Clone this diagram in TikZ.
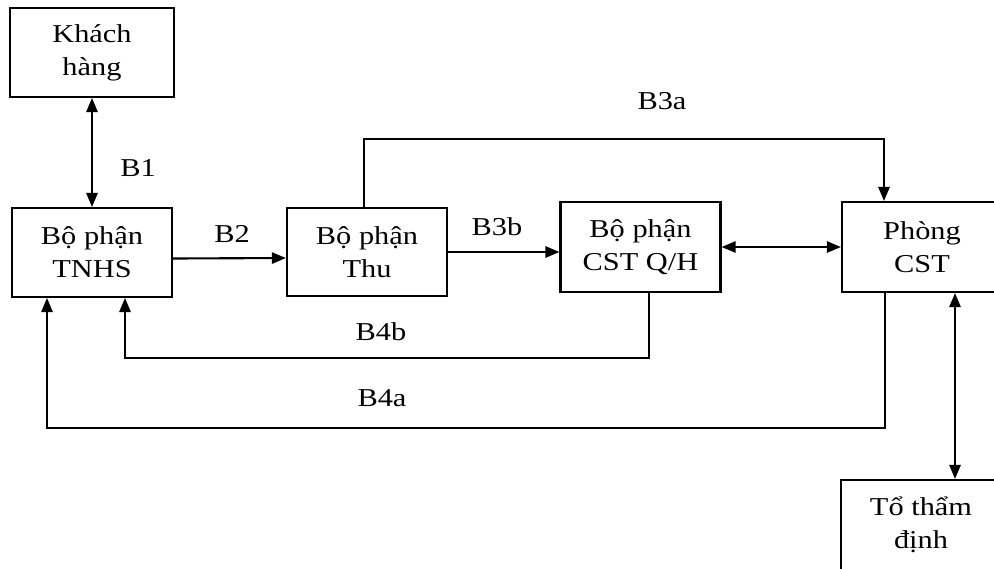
\documentclass[tikz,border=0pt]{standalone}
\usepackage{fontspec}
\setmainfont{Liberation Serif}[FakeStretch=1.18]
\usetikzlibrary{arrows.meta,positioning,calc}

\begin{document}
\begin{tikzpicture}[
    x=0.025cm, y=-0.025cm,
    line width=1.5pt,
    >={Triangle[length=10pt,width=8pt]},
    box/.style={rectangle, draw, minimum width=4cm, minimum height=2.22cm, align=center, inner sep=0pt, font=\fontsize{18.3}{23.5}\selectfont},
    lbl/.style={font=\fontsize{18.3}{21}\selectfont}
]
    \useasboundingbox (0,0) rectangle (994,568);

    % Boxes
    \node[box, minimum width=4.1cm] (khach) at (92,52.5) {Khách\\hàng};
    \node[box] (tnhs) at (92,252.5) {Bộ phận\\TNHS};
    \node[box] (thu) at (367,252) {Bộ phận\\Thu};
    \node[box, minimum height=2.25cm] (cstqh) at (640.5,247) {Bộ phận\\CST Q/H};
    \node[box, minimum height=2.25cm] (phong) at (922,247) {Phòng\\CST};
    \node[box, minimum height=2.25cm] (tham) at (921,525) {Tổ thẩm\\định};

    % Corners
    \coordinate (b3a) at (884,139);
    \coordinate (b4b) at (125,358);
    \coordinate (b4a) at (47,428);
    \coordinate (pt) at (955,380);

    % Edges
    \draw[<->] (khach) -- (tnhs);
    \draw[->] ([yshift=-0.15cm]tnhs.east) -- ([yshift=-0.15cm]thu.west);
    \draw[->] (thu.east) -- (cstqh.west |- thu.east);
    \draw[<->] (cstqh) -- (phong);
    \draw[->] ([xshift=-0.08cm]thu.north) |- (b3a) -- (b3a |- phong.north);
    \draw[->] ([xshift=0.22cm]cstqh.south) |- (b4b) -- (b4b |- tnhs.south);
    \draw[->] ([xshift=-0.92cm]phong.south) |- (b4a) -- (b4a |- tnhs.south);
    \draw[<->] (pt |- phong.south) -- (pt |- tham.north);

    % Labels
    \node[lbl] (l1) at (138,168) {B1};
    \node[lbl] (l2) at (232,234) {B2};
    \node[lbl] (l3b) at (497,227) {B3b};
    \node[lbl] (l3a) at (662,101) {B3a};
    \node[lbl] (l4b) at (381,332) {B4b};
    \node[lbl] (l4a) at (382,398) {B4a};
\end{tikzpicture}
\end{document}
